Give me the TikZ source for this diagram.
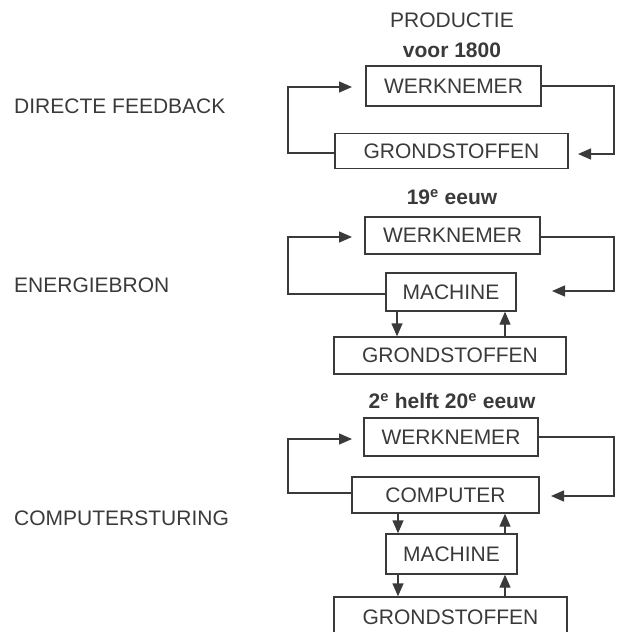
\documentclass[tikz,border=0pt]{standalone}
\usepackage{fontspec}
\setmainfont{Liberation Sans}
\usetikzlibrary{arrows.meta}
\definecolor{ink}{HTML}{3A3A3A}
\begin{document}
\begin{tikzpicture}[x=1pt,y=-1pt,
  every node/.style={text=ink,font=\fontsize{21}{25}\selectfont},
  box/.style={draw=ink,line width=1.4pt,inner sep=0pt,anchor=center},
  lbl/.style={anchor=west,inner sep=0pt},
  ttl/.style={inner sep=0pt,font=\fontsize{21}{25}\selectfont\bfseries},
  wire/.style={draw=ink,line width=1.4pt},
  arr/.style={wire,-{Triangle[length=13pt,width=11pt]}}]
\useasboundingbox (0,0) rectangle (616,632);
% left labels
\node[lbl] (d1) at (14,106) {DIRECTE FEEDBACK};
\node[lbl] (d2) at (14,285) {ENERGIEBRON};
\node[lbl] (d3) at (14,518) {COMPUTERSTURING};
% titles
\node[inner sep=0pt] (prod) at (452,20) {PRODUCTIE};
\node[ttl] (t1) at (452,50) {voor 1800};
\node[ttl] (t2) at (452,197) {19\textsuperscript{e} eeuw};
\node[ttl] (t3) at (452,401) {2\textsuperscript{e} helft 20\textsuperscript{e} eeuw};
% panel 1
\node[box,minimum width=175pt,minimum height=40pt] (w1) at (453.5,86) {WERKNEMER};
\node[box,minimum width=233pt,minimum height=35pt] (g1) at (451.5,151) {GRONDSTOFFEN};
\coordinate (a1) at (352,87);
\coordinate (b1) at (578,154);
\draw[arr] (g1.west |- 0,153) -- (288,153) |- (a1);
\draw[arr] (w1.east) -- (614,86) |- (b1);
% panel 2
\node[box,minimum width=175pt,minimum height=37pt] (w2) at (452.5,235.5) {WERKNEMER};
\node[box,minimum width=130pt,minimum height=38pt] (m2) at (451,292) {MACHINE};
\node[box,minimum width=232pt,minimum height=37pt] (g2) at (450,355.5) {GRONDSTOFFEN};
\coordinate (a2) at (352,237);
\coordinate (b2) at (552,291);
\draw[arr] (m2.west |- 0,294) -- (288,294) |- (a2);
\draw[arr] (w2.east |- 0,237) -- (614,237) |- (b2);
\draw[arr] (m2.south -| 397,0) -- (g2.north -| 397,0);
\draw[arr] (g2.north -| 505,0) -- (m2.south -| 505,0);
% panel 3
\node[box,minimum width=174pt,minimum height=38pt] (w3) at (451,437) {WERKNEMER};
\node[box,minimum width=187pt,minimum height=36pt] (c3) at (445.5,495) {COMPUTER};
\node[box,minimum width=131pt,minimum height=40pt] (m3) at (451.5,554) {MACHINE};
\node[box,minimum width=233pt,minimum height=40pt,text depth=0pt] (g3) at (450.5,617) {GRONDSTOFFEN};
\coordinate (a3) at (352,439);
\coordinate (b3) at (551,496);
\draw[arr] (c3.west |- 0,493) -- (288,493) |- (a3);
\draw[arr] (w3.east |- 0,437) -- (614,437) |- (b3);
\draw[arr] (c3.south -| 398,0) -- (m3.north -| 398,0);
\draw[arr] (m3.north -| 505,0) -- (c3.south -| 505,0);
\draw[arr] (m3.south -| 398,0) -- (g3.north -| 398,0);
\draw[arr] (g3.north -| 505,0) -- (m3.south -| 505,0);
\end{tikzpicture}
\end{document}
